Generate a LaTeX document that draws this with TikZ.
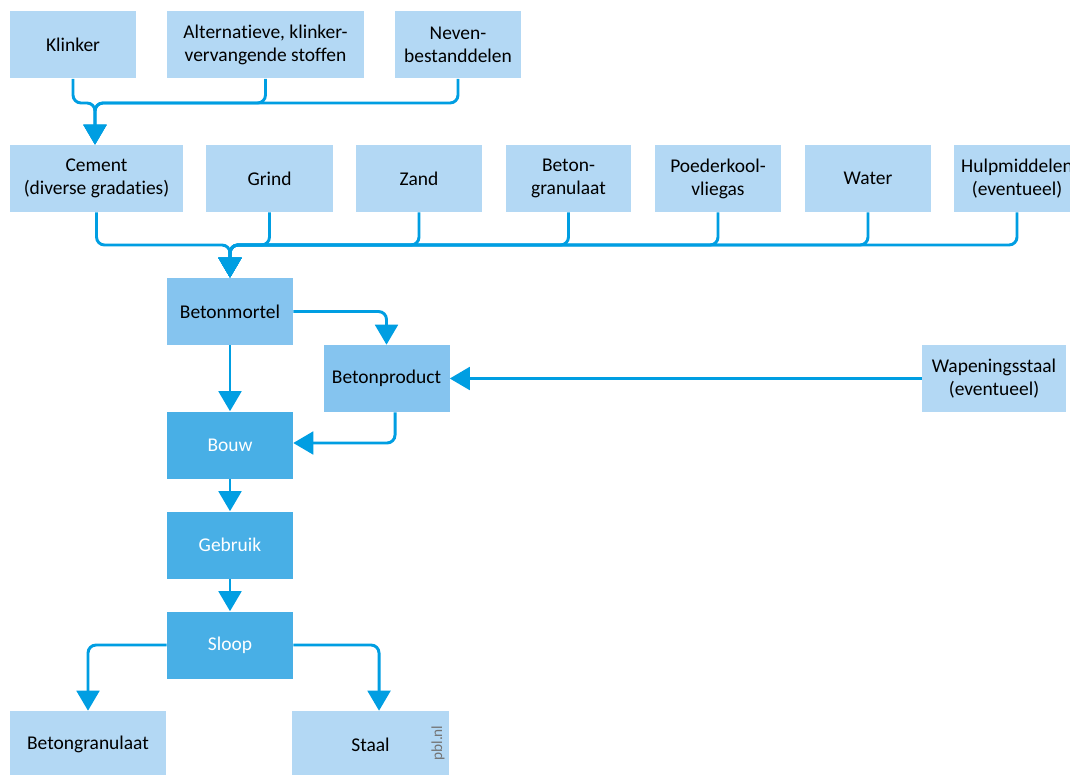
\documentclass[tikz,border=0pt]{standalone}
\usepackage{fontspec}
\setmainfont[Ligatures={NoCommon}]{Carlito}
\usetikzlibrary{arrows.meta}
\definecolor{lb}{RGB}{179,216,244}
\definecolor{mb}{RGB}{133,196,239}
\definecolor{db}{RGB}{72,175,230}
\definecolor{ln}{RGB}{0,158,226}
\begin{document}
\begin{tikzpicture}[x=0.75pt,y=-0.75pt,
 box/.style={fill=lb, text=black, minimum height=50.25pt, minimum width=94.5pt, inner sep=0pt, align=center, font=\fontsize{14.6}{17.25}\selectfont},
 mbox/.style={box, fill=mb},
 dbox/.style={box, fill=db, text=white},
 conn/.style={draw=ln, line width=2.2pt, rounded corners=6pt},
 arr/.style={conn, -{Triangle[width=17pt,length=15pt]}}]
\clip (0,0) rectangle (1070,774);
\fill[white] (0,0) rectangle (1070,774);
% row 1
\node[box] (klinker) at (73,45) {Klinker};
\node[box, minimum width=147.75pt] (alt) at (265.5,45) {Alternatieve, klinker-\\vervangende stoffen};
\node[box] (neven) at (458,45) {Neven-\\bestanddelen};
% row 2
\node[box, minimum width=129.75pt] (cement) at (96.5,178.5) {Cement\\(diverse gradaties)};
\node[box, minimum width=95.25pt] (grind) at (269.5,178.5) {Grind};
\node[box] (zand) at (419,178.5) {Zand};
\node[box, minimum width=93.75pt] (bgran) at (568.5,178.5) {Beton-\\granulaat};
\node[box] (poeder) at (718,178.5) {Poederkool-\\vliegas};
\node[box] (water) at (868,178.5) {Water};
\node[box] (hulp) at (1017,178.5) {Hulpmiddelen\\(eventueel)};
% middle
\node[mbox] (bm) at (230,311.5) {Betonmortel};
\node[mbox] (bp) at (386.5,378.5) {Betonproduct};
\node[box, minimum width=108pt] (wap) at (994,378.5) {Wapeningsstaal\\(eventueel)};
\node[dbox] (bouw) at (230,445) {Bouw};
\node[dbox] (gebruik) at (230,545) {Gebruik};
\node[dbox] (sloop) at (230,645) {Sloop};
% bottom
\node[box, minimum width=117pt] (bg) at (88,744.5) {Betongranulaat};
\node[box, minimum width=117.75pt] (staal) at (370.5,744.5) {Staal};
\node[rotate=90, text=black!55, font=\fontsize{11.5}{11.5}\selectfont] (pbl) at (438,743) {pbl.nl};
% connectors
\coordinate (j1) at (95,103);
\coordinate (j2) at (230,245);
\foreach \s in {klinker,alt,neven}
  \draw[arr] (\s.south) |- (j1) -- (j1 |- cement.north);
\foreach \s in {cement,grind,zand,bgran,poeder,water,hulp}
  \draw[arr] (\s.south) |- (j2) -- (bm.north);
\draw[arr] (bm.east) -| (bp.north);
\draw[arr] (bm.south) -- (bouw.north);
\draw[arr] ([xshift=6.4pt]bp.south) |- ([yshift=1.5pt]bouw.east);
\draw[arr] (wap.west) -- (bp.east);
\draw[arr] (bouw.south) -- (gebruik.north);
\draw[arr] (gebruik.south) -- (sloop.north);
\draw[arr] (sloop.west) -| (bg.north);
\draw[arr] (sloop.east) -| ([xshift=6.4pt]staal.north);
\end{tikzpicture}
\end{document}
